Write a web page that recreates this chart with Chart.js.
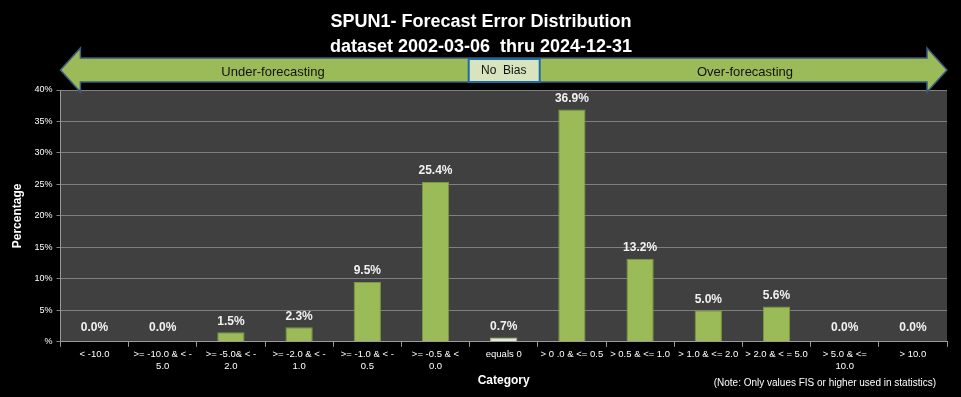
<!DOCTYPE html>
<html>
<head>
<meta charset="utf-8">
<script src="https://cdn.jsdelivr.net/npm/chart.js@4.4.1/dist/chart.umd.min.js"></script>
<style>
  html, body { margin: 0; padding: 0; background: #000; }
  #wrap { width: 961px; height: 397px; }
</style>
</head>
<body>
<div id="wrap"><canvas id="chart"></canvas></div>
<script>
// chart data
const categories = [
  '< -10.0', ['>= -10.0 & < -', '5.0'], ['>= -5.0& < -', '2.0'], ['>= -2.0 & < -', '1.0'],
  ['>= -1.0 & < -', '0.5'], ['>= -0.5 & <', '0.0'], 'equals 0', '> 0 .0 & <= 0.5',
  '> 0.5 & <= 1.0', '> 1.0 & <= 2.0', '> 2.0 & < = 5.0', ['> 5.0 & <=', '10.0'], '> 10.0'
];
const percentages = [0.0, 0.0, 1.5, 2.3, 9.5, 25.4, 0.7, 36.9, 13.2, 5.0, 5.6, 0.0, 0.0];
const yTicks = [0, 5, 10, 15, 20, 25, 30, 35, 40];
const titleLines = ['SPUN1- Forecast Error Distribution', 'dataset 2002-03-06  thru 2024-12-31'];

const FONT = '"Liberation Sans", Arial, sans-serif';

// bar colours: the "equals 0" bar is pale
const barFill = percentages.map((v, i) => i === 6 ? '#e4ebd3' : '#9bbb59');
const barBorder = percentages.map((v, i) => i === 6 ? '#a9c46c' : '#7a9a3c');

// grey plot background
const plotBg = {
  id: 'plotBg',
  beforeDraw(chart) {
    const { ctx, chartArea: a } = chart;
    ctx.save();
    ctx.fillStyle = '#404040';
    ctx.fillRect(a.left, a.top, a.right - a.left, a.bottom - a.top);
    ctx.restore();
  }
};

// titles, bias arrow, value labels, footnote
const decorations = {
  id: 'decorations',
  afterDraw(chart) {
    const { ctx, chartArea: a } = chart;
    ctx.save();

    // title
    ctx.fillStyle = '#fff';
    ctx.textAlign = 'center';
    ctx.textBaseline = 'middle';
    ctx.font = 'bold 18px ' + FONT;
    ctx.fillText(titleLines[0], 481, 22);
    ctx.fillText(titleLines[1], 481, 47);

    // double-headed arrow
    const L = a.left, R = a.right, cy = 70, bodyH = 12, headH = 22, headW = 20;
    ctx.beginPath();
    ctx.moveTo(L, cy);
    ctx.lineTo(L + headW, cy - headH);
    ctx.lineTo(L + headW, cy - bodyH);
    ctx.lineTo(R - headW, cy - bodyH);
    ctx.lineTo(R - headW, cy - headH);
    ctx.lineTo(R, cy);
    ctx.lineTo(R - headW, cy + headH);
    ctx.lineTo(R - headW, cy + bodyH);
    ctx.lineTo(L + headW, cy + bodyH);
    ctx.lineTo(L + headW, cy + headH);
    ctx.closePath();
    ctx.fillStyle = '#9bbb59';
    ctx.fill();
    ctx.lineWidth = 1.5;
    ctx.strokeStyle = '#3b5a80';
    ctx.stroke();

    // no bias box
    const x6 = chart.scales.x.getPixelForValue(6);
    ctx.fillStyle = '#d7e4bd';
    ctx.fillRect(x6 - 35, cy - 11, 71, 23);
    ctx.lineWidth = 2;
    ctx.strokeStyle = '#1f6aa5';
    ctx.strokeRect(x6 - 35, cy - 11, 71, 23);

    ctx.fillStyle = '#111';
    ctx.font = '12px ' + FONT;
    ctx.fillText('No  Bias', x6, cy + 1);
    ctx.font = '13px ' + FONT;
    ctx.fillText('Under-forecasting', 273, cy + 2);
    ctx.fillText('Over-forecasting', 745, cy + 2);

    // value labels
    const meta = chart.getDatasetMeta(0);
    ctx.fillStyle = '#f2f2f2';
    ctx.font = 'bold 12px ' + FONT;
    meta.data.forEach((bar, i) => {
      const y = percentages[i] === 0 ? bar.y - 14 : bar.y - 11;
      ctx.fillText(percentages[i].toFixed(1) + '%', bar.x, y);
    });

    // footnote
    ctx.font = '10px ' + FONT;
    ctx.fillStyle = '#fff';
    ctx.textAlign = 'right';
    ctx.fillText('(Note: Only values FIS or higher used in statistics)', 936, 383);
    ctx.restore();
  }
};

new Chart(document.getElementById('chart'), {
  type: 'bar',
  data: {
    labels: categories,
    datasets: [{
      data: percentages,
      backgroundColor: barFill,
      borderColor: barBorder,
      borderWidth: 1,
      categoryPercentage: 1,
      barPercentage: 0.4
    }]
  },
  options: {
    responsive: true,
    maintainAspectRatio: false,
    animation: false,
    layout: { padding: { top: 90, right: 14, left: 10, bottom: 7 } },
    plugins: { legend: { display: false }, tooltip: { enabled: false } },
    scales: {
      x: {
        grid: { drawOnChartArea: false, drawTicks: true, tickLength: 5, color: '#9a9a9a' },
        border: { color: '#9a9a9a' },
        ticks: {
          color: '#fff', font: { family: FONT, size: 9.5 }, maxRotation: 0, autoSkip: false, padding: 2
        },
        title: {
          display: true, text: 'Category', color: '#fff',
          font: { family: FONT, size: 12, weight: 'bold' }, padding: { top: 0, bottom: 2 }
        }
      },
      y: {
        min: 0, max: 40,
        afterBuildTicks(scale) { scale.ticks = yTicks.map(v => ({ value: v })); },
        grid: { color: '#7f7f7f', tickLength: 4 },
        border: { color: '#9a9a9a' },
        ticks: {
          color: '#fff', font: { family: FONT, size: 9 }, padding: 4,
          callback: v => v === 0 ? '%' : v + '%'
        },
        title: {
          display: true, text: 'Percentage', color: '#fff',
          font: { family: FONT, size: 12, weight: 'bold' }, padding: { top: 0, bottom: 6 }
        }
      }
    }
  },
  plugins: [plotBg, decorations]
});
</script>
</body>
</html>
